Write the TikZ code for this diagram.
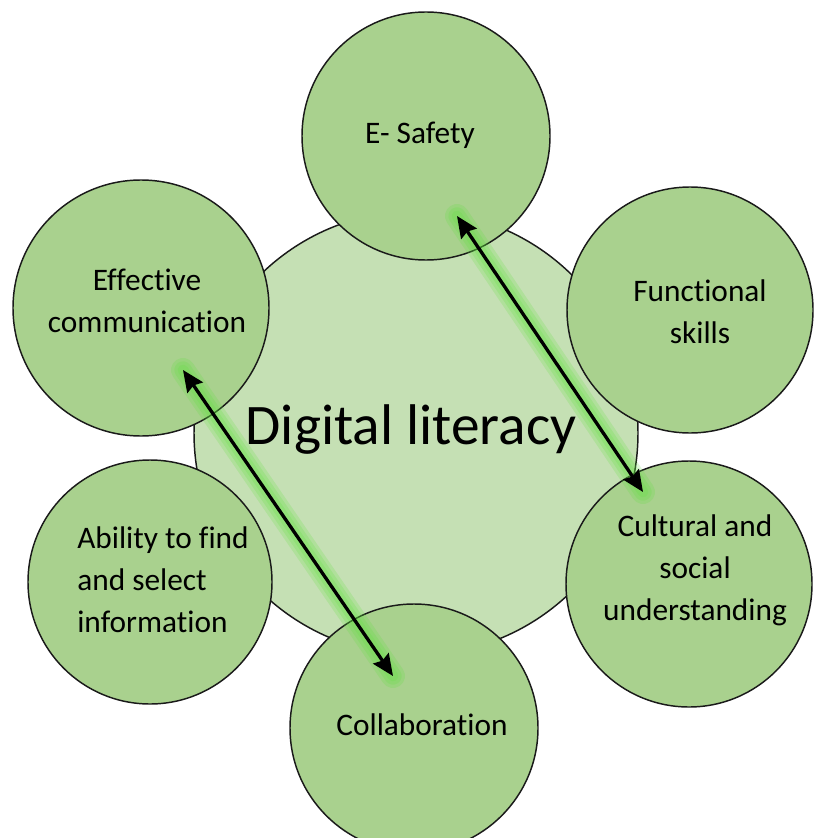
\documentclass[tikz,border=0pt]{standalone}
\usepackage{fontspec}
\setmainfont{Carlito}[Ligatures=NoCommon]
\usetikzlibrary{arrows.meta}
\definecolor{outerg}{HTML}{A9D18E}
\definecolor{innerg}{HTML}{C5E0B4}
\definecolor{glowg}{HTML}{5CE03A}
\definecolor{edgec}{HTML}{1A1A1A}
\begin{document}
\begin{tikzpicture}[x=0.75pt,y=-0.75pt,
  outer/.style={circle,draw=edgec,line width=1.1pt,fill=outerg,minimum size=#1*1.5pt,inner sep=0pt,
    font=\fontsize{23.5}{31.5}\selectfont,align=center},
  center/.style={circle,draw=edgec,line width=1.1pt,fill=innerg,minimum size=444*0.75pt,inner sep=0pt},
  label/.style={font=\fontsize{23.5}{31.5}\selectfont},
  glow/.style={line width=#1,draw=glowg,opacity=0.2,line cap=round},
  dblarrow/.style={line width=2.5pt,draw=black,{Stealth[length=16pt,width=14pt,inset=2pt]}-{Stealth[length=16pt,width=14pt,inset=2pt]}}
]
\useasboundingbox (0,0) rectangle (814,838);
\begin{scope}
\clip (0,0) rectangle (814,838);
\node[center] (dl) at (416,433) {};
\node[font=\fontsize{43}{50}\selectfont] (dltext) at (411,430) {Digital literacy};
\node[outer=124] (es) at (426,136) {};
\node[outer=123] (fs) at (690,310) {};
\node[outer=123] (cs) at (689,584) {};
\node[outer=124] (co) at (414,728) {};
\node[outer=122] (ab) at (150,582) {};
\node[outer=128] (ec) at (141,308) {};
\node[label] (estext) at (420,135) {E- Safety};
\node[label,align=center] (fstext) at (700,312) {Functional\\skills};
\node[label,align=center] (cstext) at (695,570) {Cultural and\\social\\understanding};
\node[label] (cotext) at (422,725) {Collaboration};
\node[label,align=left] (abtext) at (163,580) {Ability to find\\and select\\information};
\node[label,align=center] (ectext) at (147,301) {Effective\\communication};
\coordinate (a1s) at (457,216);
\coordinate (a1e) at (643,492);
\coordinate (a2s) at (183,370);
\coordinate (a2e) at (393,676);
\foreach \w in {18pt,13pt,8pt}{
  \draw[glow=\w] (a1s) -- (a1e);
  \draw[glow=\w] (a2s) -- (a2e);
}
\draw[dblarrow] (a1s) -- (a1e);
\draw[dblarrow] (a2s) -- (a2e);
\end{scope}
\end{tikzpicture}
\end{document}
